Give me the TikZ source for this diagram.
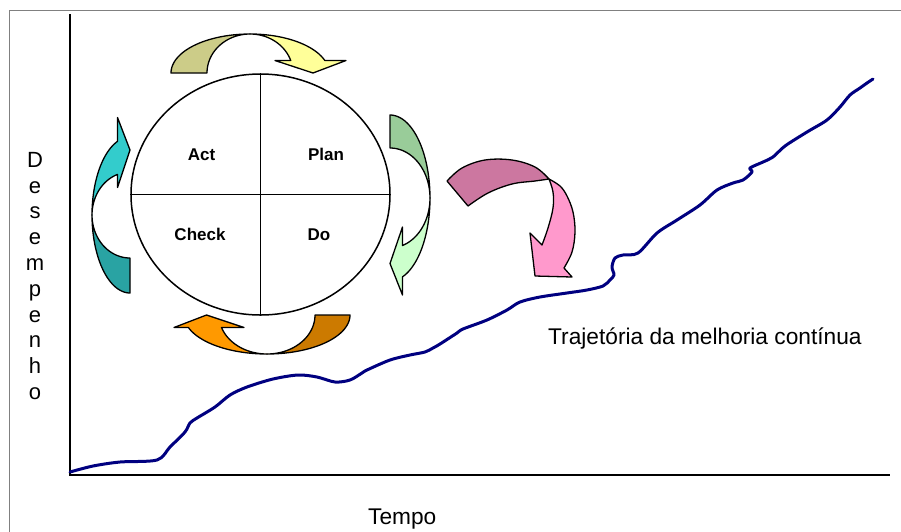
\documentclass[tikz,border=0pt]{standalone}
\usepackage{fontspec}
\setmainfont{Liberation Sans}
\usetikzlibrary{shapes.geometric}

\definecolor{oliveDark}{RGB}{204,204,136}
\definecolor{yellowLight}{RGB}{255,255,153}
\definecolor{greenDark}{RGB}{153,204,153}
\definecolor{greenLight}{RGB}{204,255,204}
\definecolor{orangeLight}{RGB}{255,153,0}
\definecolor{orangeDark}{RGB}{204,122,0}
\definecolor{tealLight}{RGB}{51,204,204}
\definecolor{tealDark}{RGB}{41,163,163}
\definecolor{pinkDark}{RGB}{204,119,160}
\definecolor{pinkLight}{RGB}{255,153,204}
\definecolor{navyline}{RGB}{0,0,128}
\definecolor{framegray}{RGB}{128,128,128}

% Curved cycle arrow: #1,#2 centre, #3 rotation, #4 back colour, #5 front colour,
% #6 outer radius along the band, #7 inner radius, #8 height of the arch, #9 head shift
\newcommand{\cyclearrow}[9]{%
\begin{scope}[shift={(#1,#2)}, rotate=#3]
  \pgfmathsetmacro\neckangle{asin(12.5/#8)}
  \filldraw[arrowline, fill=#4]
    plot[domain=180:90, samples=30] ({#6*cos(\x)},{-#8*sin(\x)})
    -- plot[domain=90:180, samples=30] ({#7*cos(\x)},{-#8*sin(\x)}) -- cycle;
  \filldraw[arrowline, fill=#5]
    plot[domain=90:\neckangle, samples=30] ({#6*cos(\x)},{-#8*sin(\x)})
    -- ({#6+17+#9},-12.5) -- ({(#6+#7)/2+2+#9},0) -- ({#7-18+#9},-12.5)
    -- plot[domain=\neckangle:90, samples=30] ({#7*cos(\x)},{-#8*sin(\x)}) -- cycle;
\end{scope}}

\begin{document}
\begin{tikzpicture}[x=1pt, y=-1pt,
  arrowline/.style={draw=black, line width=1.3pt, line join=round},
  axisline/.style={draw=black, line width=2.6pt},
  trend/.style={draw=navyline, line width=3pt, line cap=round, line join=round},
  quadlabel/.style={font=\fontsize{17}{20}\selectfont\bfseries, inner sep=0pt, anchor=base},
  plainlabel/.style={font=\fontsize{22.7}{26}\selectfont, inner sep=0pt},
]
\useasboundingbox (0,0) rectangle (901,531);
\fill[white] (0,0) rectangle (901,531);

% frame
\draw[framegray, line width=1pt] (9,540) -- (9,10) -- (910,10);

% axes
\coordinate (origin) at (70,475);
\coordinate (ytop) at (70,14);
\coordinate (xend) at (890,475);
\draw[axisline] (ytop) -- (origin) -- (xend);

% axis titles
\node[plainlabel, anchor=north, align=center, font=\fontsize{22}{25.8}\selectfont] (ytitle) at (35,152)
  {D\\e\\s\\e\\m\\p\\e\\n\\h\\o};
\node[plainlabel, anchor=base west] (xtitle) at (368,524) {Tempo};

% improvement trajectory
\draw[trend] plot[smooth, tension=0.5] coordinates {
 (70,472) (93,466) (120,462) (157,460) (170,447) (185,432) (190,423) (197,418)
 (215,407) (230,395) (247,387) (273,379) (298,375) (317,377) (335,382) (350,380)
 (362,373) (367,370) (390,360) (410,355) (425,352) (433,348) (440,344) (457,333)
 (463,329) (487,320) (507,310) (520,302) (540,297) (567,293) (587,290) (603,286)
 (610,280) (614,275) (612,267) (615,258) (623,255) (638,253) (657,233) (677,220)
 (700,205) (717,190) (733,183) (743,180) (752,172) (750,168) (763,162) (773,157)
 (785,146) (807,132) (827,120) (840,107) (850,95) (860,88) (867,83) (873,79)};
\node[plainlabel, anchor=base west] (trajlabel) at (548,344) {Trajetória da melhoria contínua};

% PDCA wheel
\node[draw=black, line width=1.5pt, ellipse, inner sep=0pt,
      minimum width=259pt, minimum height=241pt] (pdca) at (260.5,194.5) {};
\draw[black, line width=1.5pt] (pdca.north) -- (pdca.south);
\draw[black, line width=1.5pt] (pdca.west) -- (pdca.east);
\node[quadlabel] (act) at (201.5,160) {Act};
\node[quadlabel] (plan) at (326,160) {Plan};
\node[quadlabel] (check) at (200,240) {Check};
\node[quadlabel] (do) at (319,240) {Do};

% arrows turning round the wheel
\cyclearrow{250}{73}{0}{oliveDark}{yellowLight}{79}{43}{39}{0}
\cyclearrow{390}{198}{-90}{greenDark}{greenLight}{83}{50}{40}{-3}
\cyclearrow{267}{315}{180}{orangeDark}{orangeLight}{83}{48}{39}{-7}
\cyclearrow{130}{215}{90}{tealDark}{tealLight}{78}{43}{38}{2.5}

% arrow from the wheel to the trajectory
\filldraw[arrowline, fill=pinkDark]
  plot[smooth, tension=0.6] coordinates {(447,181) (462,168) (485,160) (512,160) (535,167) (549,179)}
  -- plot[smooth, tension=0.6] coordinates {(549,179) (535,181) (512,184) (488,193) (468,206)}
  -- cycle;
\filldraw[arrowline, fill=pinkLight]
  plot[smooth, tension=0.6] coordinates {(549,179) (560,186) (567,196) (573,212) (575,232) (572,252) (564,268)}
  -- (572,277) -- (535,276) -- (530,233) -- (542,245)
  -- plot[smooth, tension=0.6] coordinates {(542,245) (548,228) (553,208) (553,192) (549,179)}
  -- cycle;
\end{tikzpicture}
\end{document}
